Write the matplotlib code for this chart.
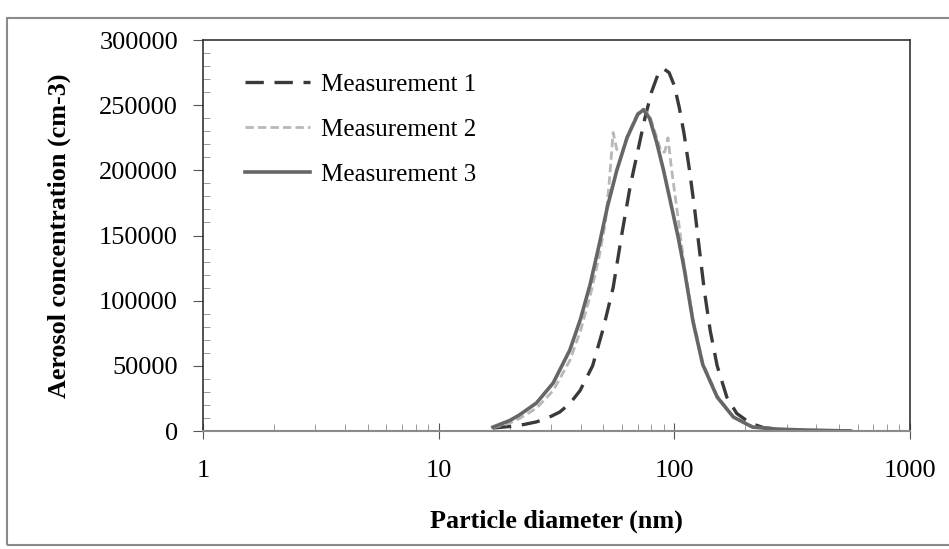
import matplotlib
matplotlib.use("Agg")
import matplotlib.pyplot as plt
from matplotlib.patches import Rectangle
from matplotlib.ticker import MultipleLocator, LogLocator, NullFormatter

plt.rcParams['font.family'] = ['Liberation Serif', 'DejaVu Serif']

# Measurement 1 (dashed, dark)
d1 = [17, 20, 23, 26, 29, 32.6, 36, 39.8, 45, 50, 55, 60, 65, 70, 75, 80, 85, 90,
      95, 100, 105, 110, 116, 122, 128, 134, 142, 152, 167, 184, 210, 240, 300, 400,
      560]
m1 = [2300, 3500, 5000, 7000, 10000, 14500, 21000, 31000, 50000, 79000, 110000,
      152000, 188000, 215000, 240000, 260000, 273000, 278000, 275000, 265000, 248000,
      228000, 200000, 170000, 138000, 108000, 77000, 50000, 26000, 13500, 6000, 2500,
      800, 200, 0]

# Measurement 2 (short dashes, light grey)
d2 = [17, 20, 22, 26, 30.6, 36, 40, 44, 48, 51, 53, 55, 57, 60, 63, 70, 74, 78.5,
      84, 88, 91, 94, 97, 100, 104, 110, 120, 132, 152, 178, 215, 270, 350, 450, 560]
m2 = [2500, 6000, 9500, 17500, 31000, 54000, 77000, 104000, 134000, 160000, 192000,
      229000, 216000, 213000, 226000, 244000, 247000, 242000, 226000, 214000, 214000,
      225000, 203000, 185000, 162000, 128000, 86000, 52000, 27000, 11000, 3200, 1500,
      800, 400, 0]

# Measurement 3 (solid)
d3 = [17, 20, 22, 26, 30.6, 36, 40, 44, 48, 52, 57, 63, 70, 74, 78.5, 84, 90, 96,
      104, 110, 120, 132, 152, 178, 215, 270, 350, 450, 560]
m3 = [3000, 8000, 12300, 21500, 36800, 62000, 86000, 113000, 143000, 172000, 200000,
      225000, 243000, 246500, 240000, 222000, 200000, 177000, 148000, 125000, 84000,
      51000, 26000, 10700, 3000, 1500, 800, 400, 0]

labels = ["Measurement 1", "Measurement 2", "Measurement 3"]

fig = plt.figure(figsize=(9.49, 5.49), dpi=100)
ax = fig.add_axes([0.2139, 0.2149, 0.745, 0.7122])

ax.plot(d1, m1, color="#3a3a3a", lw=2.4, dashes=(5.5, 3.2), label=labels[0])
ax.plot(d2, m2, color="#b8b8b8", lw=2.0, dashes=(3, 1.5), label=labels[1])
ax.plot(d3, m3, color="#666666", lw=2.6, label=labels[2])

ax.set_xscale("log")
ax.set_xlim(1, 1000)
ax.set_ylim(0, 300000)
ax.set_xticks([1, 10, 100, 1000])
ax.set_xticklabels(["1", "10", "100", "1000"])
ax.xaxis.set_minor_locator(LogLocator(base=10, subs=range(2, 10)))
ax.xaxis.set_minor_formatter(NullFormatter())
ax.yaxis.set_major_locator(MultipleLocator(50000))
ax.yaxis.set_minor_locator(MultipleLocator(10000))

ax.tick_params(axis="both", which="major", labelsize=19, color="#555555")
ax.tick_params(axis="x", which="major", direction="inout", length=12, pad=15)
ax.tick_params(axis="x", which="minor", direction="in", length=5, color="#888888")
ax.tick_params(axis="y", which="major", direction="out", length=7, pad=11)
ax.tick_params(axis="y", which="minor", direction="in", length=5, color="#888888")

for side in ["top", "right", "left"]:
    ax.spines[side].set_color("#333333")
    ax.spines[side].set_linewidth(1.2)
ax.spines["bottom"].set_color("#8a8a8a")
ax.spines["bottom"].set_linewidth(1.5)

ax.set_xlabel("Particle diameter (nm)", fontsize=18.8, fontweight="bold", labelpad=20)
ax.set_ylabel("Aerosol concentration (cm-3)", fontsize=18.8, fontweight="bold",
              labelpad=20)

ax.legend(loc="upper left", bbox_to_anchor=(0.059, 0.915), frameon=False, fontsize=18,
          handlelength=2.6, handletextpad=0.45, borderpad=0, borderaxespad=0,
          labelspacing=0.9)

# outer frame around the whole picture
fig.patches.append(Rectangle((0.0075, 0.007), 1.1, 0.96, transform=fig.transFigure,
                             fill=False, edgecolor="#8a8a8a", lw=1.5))

plt.savefig("out.png", dpi=100)
